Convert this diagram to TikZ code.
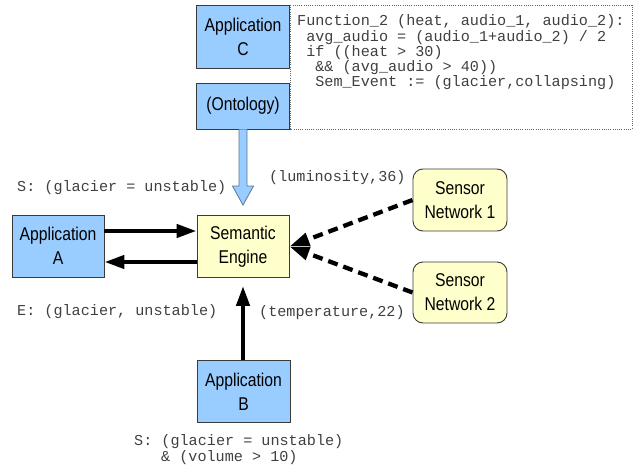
\documentclass[tikz,border=0pt]{standalone}
\usepackage{fontspec}
\usetikzlibrary{arrows.meta,calc}
\newfontfamily\boxfont[FakeStretch=0.85]{Liberation Sans}
\newfontfamily\codefont{Liberation Mono}
\definecolor{appblue}{HTML}{99CCFF}
\definecolor{engyellow}{HTML}{FFFFCC}
\definecolor{edgegray}{HTML}{3A3A3A}
\definecolor{arrowedge}{HTML}{5A7896}
\definecolor{codegray}{HTML}{404040}
\begin{document}
\begin{tikzpicture}[x=1pt,y=-1pt,
  box/.style={draw=edgegray,line width=0.9pt,minimum width=93pt,minimum height=62pt,inner sep=0pt,align=center,
    font=\boxfont\fontsize{18.5}{24}\selectfont},
  appbox/.style={box,fill=appblue},
  engbox/.style={box,fill=engyellow},
  sensbox/.style={box,fill=engyellow,rounded corners=10pt},
  code/.style={inner sep=0pt,anchor=base west,text=codegray,font=\codefont\fontsize{15.15}{15}\selectfont},
  lbl/.style={inner sep=0pt,anchor=west,text=codegray,font=\codefont\fontsize{15.15}{15}\selectfont},
  bigarrow/.style={line width=4.3pt,-{Triangle[length=20pt,width=13pt]}},
  dasharrow/.style={bigarrow,dash pattern=on 10pt off 6pt},
  blockarrow/.style={fill=appblue,draw=arrowedge,line width=0.8pt,line join=miter}
]
\useasboundingbox (0,0) rectangle (634,468);
% dotted code frame
\draw[gray!80!black,line width=0.8pt,dash pattern=on 1pt off 1.2pt] (290,5) rectangle (632,129);
\node[code] (c1) at (297,26) {Function\_2 (heat, audio\_1, audio\_2):};
\node[code] (c2) at (297,41.2) {\ avg\_audio = (audio\_1+audio\_2) / 2};
\node[code] (c3) at (297,56.4) {\ if ((heat > 30)};
\node[code] (c4) at (297,71.6) {\ \ \&\& (avg\_audio > 40))};
\node[code] (c5) at (297,86.8) {\ \ Sem\_Event := (glacier,collapsing)};
% boxes
\node[appbox,minimum height=63pt] (appC) at (243,36.5) {Application\\C};
\node[appbox,minimum height=46pt] (onto) at (243,106) {(Ontology)};
\node[appbox,minimum width=92pt] (appA) at (58,246) {Application\\A};
\node[engbox,minimum width=92pt] (se) at (243,246.5) {Semantic\\Engine};
\node[appbox] (appB) at (243.5,391.5) {Application\\B};
\node[sensbox,minimum width=94pt] (sn1) at (460,200) {Sensor\\Network 1};
\node[sensbox,minimum width=94pt,minimum height=61pt] (sn2) at (460,292.5) {Sensor\\Network 2};
% ontology block arrow
\coordinate (otip) at ($(se.north)+(0,-10)$);
\coordinate (ohead) at ($(otip)+(0,-19)$);
\draw[blockarrow] ($(onto.south)+(-4,0)$) -- ($(ohead)+(-4,0)$) -- ($(ohead)+(-10.5,0)$) -- (otip)
  -- ($(ohead)+(10.5,0)$) -- ($(ohead)+(4,0)$) -- ($(onto.south)+(4,0)$);
% A <-> engine
\coordinate (a1) at ($(appA.east)+(0,-15)$);
\coordinate (a2) at ($(appA.east)+(0,16)$);
\draw[bigarrow] (a1) -- (a1 -| se.west);
\draw[bigarrow] (a2 -| se.west) -- (a2);
% sensors
\draw[dasharrow] (sn1.west) -- (se.east);
\draw[dasharrow] (sn2.west) -- (se.east);
% B -> engine
\coordinate (btip) at ($(se.south)+(0,8)$);
\draw[bigarrow] (appB.north -| btip) -- (btip);
% labels
\node[lbl] (lS) at (17,188) {S: (glacier = unstable)};
\node[lbl] (lE) at (17,312) {E: (glacier, unstable)};
\node[lbl] (lL) at (269,178) {(luminosity,36)};
\node[lbl] (lT) at (259,313) {(temperature,22)};
\node[lbl] (lB1) at (134,442) {S: (glacier = unstable)};
\node[lbl] (lB2) at (161,458) {\& (volume > 10)};
\end{tikzpicture}
\end{document}
